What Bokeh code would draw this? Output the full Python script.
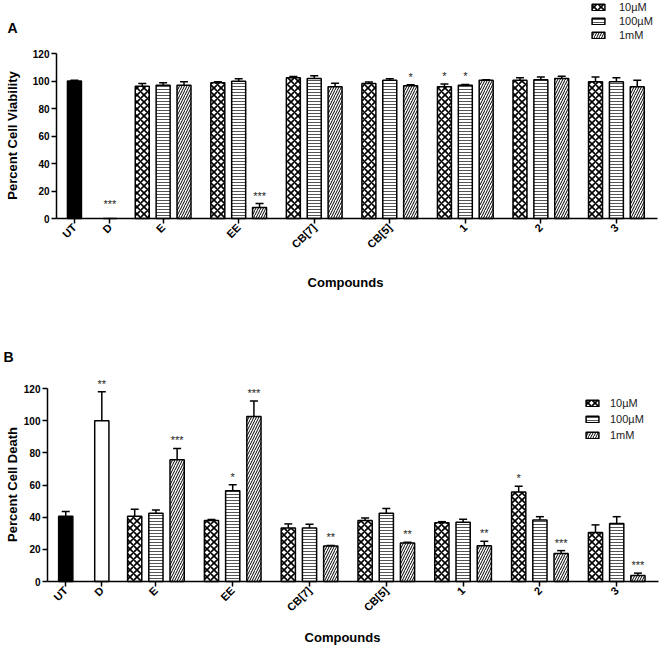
import math
from bokeh.plotting import figure
from bokeh.models import (ColumnDataSource, Range1d, FixedTicker, Whisker, TeeHead,
                          Legend, LegendItem, Label)
from bokeh.layouts import column
from bokeh.core.properties import value
from bokeh.embed import file_html
from bokeh.resources import INLINE

controls = ["UT", "D"]
groups = ["E", "EE", "CB[7]", "CB[5]", "1", "2", "3"]
doses = ["10µM", "100µM", "1mM"]
y_ticks = [0, 20, 40, 60, 80, 100, 120]

# Panel A - Percent Cell Viability
a_ctrl = [100.0, 0.0]
a_ctrl_err = [0.5, 0.0]
a_ctrl_sig = ["", "***"]
a_10 = [96.2, 98.7, 102.3, 98.2, 95.8, 100.6, 99.4]
a_10_err = [2.0, 0.8, 1.0, 1.0, 2.0, 1.7, 3.6]
a_10_sig = ["", "", "", "", "*", "", ""]
a_100 = [97.0, 99.9, 101.8, 100.6, 97.0, 101.0, 99.4]
a_100_err = [1.7, 1.7, 2.0, 1.0, 0.5, 2.0, 2.9]
a_100_sig = ["", "", "", "", "*", "", ""]
a_1m = [97.0, 8.0, 95.8, 96.5, 100.6, 101.8, 95.8]
a_1m_err = [2.5, 2.9, 2.5, 0.8, 0.3, 1.7, 4.8]
a_1m_sig = ["", "***", "", "*", "", "", ""]

# Panel B - Percent Cell Death
b_ctrl = [40.6, 100.0]
b_ctrl_err = [3.0, 18.0]
b_ctrl_sig = ["", "**"]
b_10 = [40.6, 37.9, 33.3, 37.9, 36.6, 55.7, 30.4]
b_10_err = [4.3, 0.6, 2.5, 1.6, 0.6, 3.5, 4.8]
b_10_sig = ["", "", "", "", "", "*", ""]
b_100 = [42.4, 56.5, 33.3, 42.4, 36.8, 38.3, 36.0]
b_100_err = [2.0, 3.7, 2.3, 3.0, 1.9, 2.0, 4.3]
b_100_sig = ["", "*", "", "", "", "", ""]
b_1m = [75.7, 102.6, 22.1, 24.0, 22.3, 17.4, 3.7]
b_1m_err = [7.0, 9.7, 0.3, 0.4, 2.7, 1.8, 1.5]
b_1m_sig = ["***", "***", "**", "**", "**", "***", "***"]

FONT = "Liberation Sans"
ctrl_pos = [0.0, 1.7]
group_pos = [round(4.25 + 3.62 * i, 2) for i in range(len(groups))]
offsets = [-1.0, 0.0, 1.0]
BAR_W = 0.67
X_LO, X_HI = -0.86, 27.94
Y_LO, Y_HI = 0, 120
W = 661


def series_styles():
    return [
        dict(hatch_pattern="diagonal_cross", hatch_scale=7, hatch_weight=1.6, hatch_color="black"),
        dict(hatch_pattern="horizontal_line", hatch_scale=3, hatch_weight=1, hatch_color="#555555"),
        dict(hatch_pattern="right_diagonal_line", hatch_scale=5, hatch_weight=1, hatch_color="black"),
    ]


def txt(text, x, y, size, bold=True, angle=0.0, align="center"):
    return Label(x=x, y=y, x_units="screen", y_units="screen", text=text, angle=angle,
                 text_font=FONT, text_font_size=size, text_font_style="bold" if bold else "normal",
                 text_align=align, text_baseline="middle", text_color="black")


def make_panel(letter, ylabel, ctrl, ctrl_err, ctrl_sig, series, height, px_top, px_zero,
               px_left, px_right, legend_xy, legend_spacing, legend_standoff,
               letter_xy, xlabel_xy, ylabel_xy):
    # The frame covers the whole figure so that the panel letter, legend and
    # titles (all outside the bounded axes) are not clipped.
    kx = (px_right - px_left) / (X_HI - X_LO)
    ky = (px_zero - px_top) / (Y_HI - Y_LO)
    x_range = Range1d(X_LO - px_left / kx, X_HI + (W - px_right) / kx)
    y_range = Range1d(Y_LO - (height - px_zero) / ky, Y_HI + px_top / ky)
    p = figure(width=W, height=height, x_range=x_range, y_range=y_range,
               output_backend="svg", toolbar_location=None,
               min_border_left=0, min_border_right=0, min_border_top=0, min_border_bottom=0)
    p.outline_line_color = None
    p.grid.visible = False
    p.background_fill_color = "white"
    p.border_fill_color = "white"

    star_x, star_y, star_t = [], [], []

    # control bars (UT, D)
    cfill = ["black", "white"]
    csrc = ColumnDataSource(dict(x=ctrl_pos, top=ctrl, fill=cfill))
    p.vbar(x="x", top="top", bottom=0, width=BAR_W, source=csrc, fill_color="fill",
           line_color="black", line_width=1.5)
    wx = [x for x, e in zip(ctrl_pos, ctrl_err) if e > 0]
    wl = [v for v, e in zip(ctrl, ctrl_err) if e > 0]
    wu = [v + e for v, e in zip(ctrl, ctrl_err) if e > 0]
    for x, v, e, s in zip(ctrl_pos, ctrl, ctrl_err, ctrl_sig):
        if s:
            star_x.append(x); star_y.append(max(v + e, 5)); star_t.append(s)

    rends = []
    for (vals, errs, sigs), off, st in zip(series, offsets, series_styles()):
        xs = [round(g + off, 2) for g in group_pos]
        src = ColumnDataSource(dict(x=xs, top=vals))
        r = p.vbar(x="x", top="top", bottom=0, width=BAR_W, source=src, fill_color="white",
                   line_color="black", line_width=1.5, **st)
        rends.append(r)
        wx += xs
        wl += list(vals)
        wu += [v + e for v, e in zip(vals, errs)]
        for x, v, e, s in zip(xs, vals, errs, sigs):
            if s:
                star_x.append(x); star_y.append(max(v + e, 5)); star_t.append(s)

    wsrc = ColumnDataSource(dict(base=wx, lower=wl, upper=wu))
    p.add_layout(Whisker(source=wsrc, base="base", lower="lower", upper="upper",
                         line_color="black", line_width=1.5, lower_head=None,
                         upper_head=TeeHead(size=8, line_color="black", line_width=1.5)))

    ssrc = ColumnDataSource(dict(x=star_x, y=star_y, t=star_t))
    p.text(x="x", y="y", text="t", source=ssrc, text_font=value(FONT), text_font_size="11px",
           text_align="center", text_baseline="middle", y_offset=-8, text_color="#222222")

    # axes, pinned to the data origin and bounded to the plotted extent
    ticks = ctrl_pos + group_pos
    names = controls + groups
    xa = p.xaxis[0]
    xa.ticker = FixedTicker(ticks=ticks)
    xa.major_label_overrides = {t: n for t, n in zip(ticks, names)}
    xa.major_label_orientation = math.pi / 4
    xa.bounds = (X_LO, X_HI)
    xa.fixed_location = Y_LO
    ya = p.yaxis[0]
    ya.ticker = FixedTicker(ticks=y_ticks)
    ya.bounds = (Y_LO, Y_HI)
    ya.fixed_location = X_LO
    for ax in (xa, ya):
        ax.axis_line_width = 1.5
        ax.axis_line_color = "black"
        ax.major_tick_line_width = 1.5
        ax.major_tick_line_color = "black"
        ax.major_tick_in = 0
        ax.major_tick_out = 5
        ax.minor_tick_line_color = None
        ax.major_label_standoff = 2
        ax.major_label_text_font = FONT
        ax.major_label_text_font_style = "bold"
        ax.major_label_text_color = "black"
    xa.major_label_text_font_size = "11px"
    ya.major_label_text_font_size = "10px"

    legend = Legend(items=[LegendItem(label=d, renderers=[r]) for d, r in zip(doses, rends)],
                    location=legend_xy, orientation="vertical", border_line_color=None,
                    background_fill_alpha=0, padding=0, margin=0, spacing=legend_spacing,
                    glyph_width=16, glyph_height=8, label_standoff=legend_standoff, label_height=12,
                    label_text_font=FONT, label_text_font_size="11px", label_text_color="#222222")
    p.add_layout(legend)

    p.add_layout(txt(letter, letter_xy[0], height - letter_xy[1], "14px", align="left"))
    p.add_layout(txt("Compounds", xlabel_xy[0], height - xlabel_xy[1], "13px"))
    p.add_layout(txt(ylabel, ylabel_xy[0], height - ylabel_xy[1], "13px", angle=math.pi / 2))
    return p


pa = make_panel("A", "Percent Cell Viability", a_ctrl, a_ctrl_err, a_ctrl_sig,
                [(a_10, a_10_err, a_10_sig), (a_100, a_100_err, a_100_sig), (a_1m, a_1m_err, a_1m_sig)],
                height=300, px_top=53, px_zero=218, px_left=56, px_right=657,
                legend_xy=(590, 259), legend_spacing=2, legend_standoff=13,
                letter_xy=(7, 27), xlabel_xy=(345, 282), ylabel_xy=(12, 135))
pb = make_panel("B", "Percent Cell Death", b_ctrl, b_ctrl_err, b_ctrl_sig,
                [(b_10, b_10_err, b_10_sig), (b_100, b_100_err, b_100_sig), (b_1m, b_1m_err, b_1m_sig)],
                height=346, px_top=88, px_zero=281, px_left=47, px_right=658,
                legend_xy=(584, 205), legend_spacing=4, legend_standoff=10,
                letter_xy=(3, 56), xlabel_xy=(342, 337), ylabel_xy=(12, 184))

layout = column(pa, pb, spacing=0)
open("out.html", "w").write(file_html(layout, INLINE))
